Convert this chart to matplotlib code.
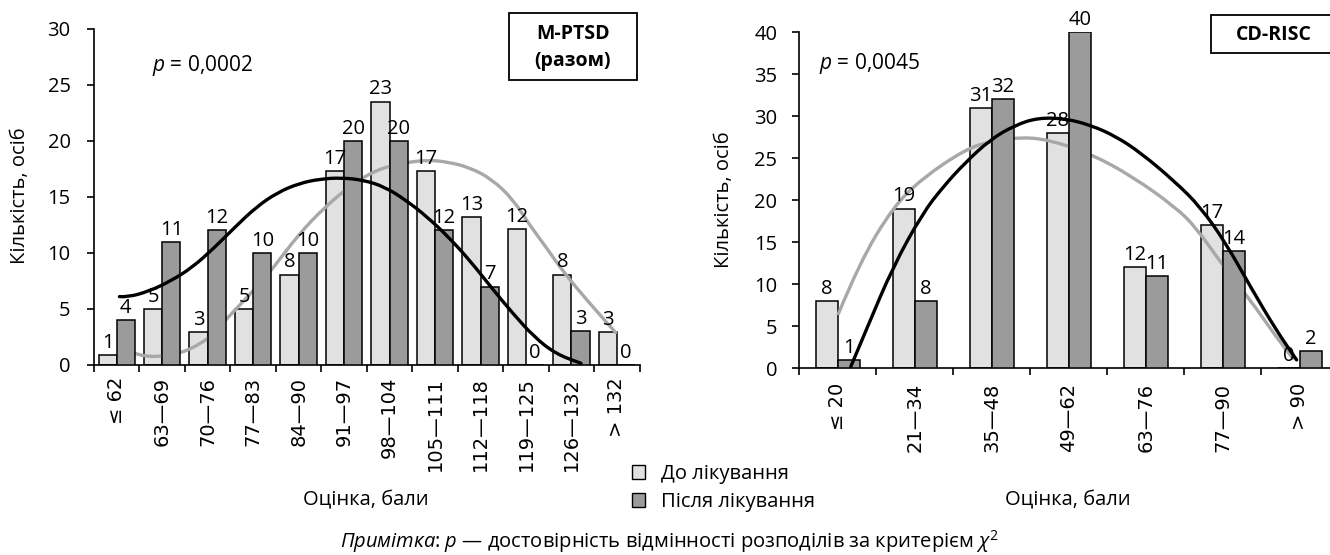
import numpy as np
import matplotlib
matplotlib.use('Agg')
from matplotlib import pyplot as plt
from matplotlib.patches import Patch, Rectangle, PathPatch
from matplotlib.path import Path

plt.rcParams['font.family'] = ['Open Sans', 'DejaVu Sans']
plt.rcParams['mathtext.fontset'] = 'custom'
plt.rcParams['mathtext.it'] = 'Open Sans:italic'
plt.rcParams['mathtext.rm'] = 'Open Sans'

# ---- M-PTSD (разом) ----
ptsd_cats = ['≤ 62', '63—69', '70—76', '77—83', '84—90', '91—97',
             '98—104', '105—111', '112—118', '119—125', '126—132', '> 132']
ptsd_before = [0.92, 5.0, 2.92, 5.0, 8.07, 17.34, 23.5, 17.34, 13.2, 12.15, 8.07, 2.92]
ptsd_before_lbl = [1, 5, 3, 5, 8, 17, 23, 17, 13, 12, 8, 3]
ptsd_after = [4, 11, 12, 10, 10, 20, 20, 12, 7, 0, 3, 0]

# лінії тренду (позиція категорії, значення)
ptsd_before_cx = [0.09, 0.44, 0.91, 1.38, 1.85, 2.13, 2.41, 3.07, 3.45, 4.01, 4.58, 5.14,
                  5.7, 6.27, 6.83, 7.3, 7.77, 8.24, 8.71, 9.06, 9.46, 9.84, 10.4, 10.97]
ptsd_before_cy = [1.4, 0.9, 0.7, 1.0, 1.9, 2.8, 4.1, 6.9, 8.7, 11.7, 14.1, 16.0,
                  17.4, 18.0, 18.3, 18.1, 17.6, 16.6, 14.8, 12.6, 10.4, 8.2, 5.5, 2.9]
ptsd_after_cx = [0.06, 0.25, 0.72, 1.19, 1.66, 2.13, 2.6, 3.07, 3.54, 4.01, 4.48, 4.95,
                 5.42, 5.89, 6.36, 6.83, 7.3, 7.77, 8.24, 8.71, 9.18, 9.65, 10.21]
ptsd_after_cy = [6.1, 6.05, 6.6, 7.5, 8.7, 10.4, 12.3, 14.1, 15.4, 16.2, 16.6, 16.7,
                 16.5, 15.9, 14.7, 13.2, 11.4, 9.3, 6.9, 4.6, 2.5, 1.0, 0.15]

# ---- CD-RISC ----
risc_cats = ['≤ 20', '21—34', '35—48', '49—62', '63—76', '77—90', '> 90']
risc_before = [8, 19, 31, 28, 12, 17, 0]
risc_after = [1, 8, 32, 40, 11, 14, 2]

risc_before_cx = [0.01, 0.28, 0.72, 1.1, 1.65, 1.98, 2.36, 2.74, 3.29, 3.83, 4.38,
                  4.65, 4.98, 5.36, 5.69, 5.91]
risc_before_cy = [6.5, 12.5, 19.2, 22.6, 26.0, 27.0, 27.5, 27.2, 25.5, 22.8, 19.2,
                  16.8, 12.5, 8.1, 3.8, 1.2]
risc_after_cx = [0.17, 0.39, 0.72, 1.1, 1.37, 1.65, 1.98, 2.3, 2.6, 2.96, 3.29, 3.61,
                 3.94, 4.38, 4.71, 5.04, 5.36, 5.69, 5.96]
risc_after_cy = [0.2, 5.0, 12.1, 18.4, 21.6, 24.4, 27.2, 28.9, 29.8, 29.7, 28.9, 27.6,
                 25.6, 22.2, 19.2, 14.9, 9.7, 4.6, 1.0]

LIGHT = '#e1e1e1'
DARK = '#9b9b9b'
GREY_LINE = '#a8a8a8'
W, H = 1330, 555


def px_axes(fig, x0, x1, y_top, y_bot):
    """осі по координатах у пікселях"""
    return fig.add_axes([x0 / W, 1 - y_bot / H, (x1 - x0) / W, (y_bot - y_top) / H])


def smooth_line(ax, xs, ys, color, z):
    """гладка крива: зчитані точки як контрольні точки квадратичних кривих Безьє"""
    pts = list(zip(xs, ys))
    verts = [pts[0]]
    codes = [Path.MOVETO]
    for i in range(1, len(pts) - 1):
        mid = ((pts[i][0] + pts[i + 1][0]) / 2, (pts[i][1] + pts[i + 1][1]) / 2)
        verts += [pts[i], mid]
        codes += [Path.CURVE3, Path.CURVE3]
    verts.append(pts[-1])
    codes.append(Path.LINETO)
    ax.add_patch(PathPatch(Path(verts, codes), facecolor='none', edgecolor=color,
                           lw=2.4, zorder=z, capstyle='round'))


def panel(ax, cats, before, before_lbl, after, bcx, bcy, acx, acy, bw, ymax, ypad, xpad):
    x = np.arange(len(cats))
    ax.bar(x - bw / 2, before, bw, color=LIGHT, edgecolor='black', linewidth=1.1, zorder=2)
    smooth_line(ax, bcx, bcy, GREY_LINE, 2.5)
    ax.bar(x + bw / 2, after, bw, color=DARK, edgecolor='black', linewidth=1.1, zorder=3)
    smooth_line(ax, acx, acy, 'black', 4)

    for xi, h, l in zip(x - bw / 2, before, before_lbl):
        ax.annotate(str(l), (xi, h), xytext=(0, 1.5), textcoords='offset points',
                    ha='center', va='bottom', fontsize=14.5, zorder=5)
    for xi, h in zip(x + bw / 2, after):
        ax.annotate(str(h), (xi, h), xytext=(0, 1.5), textcoords='offset points',
                    ha='center', va='bottom', fontsize=14.5, zorder=5)

    ax.set_xlim(-0.5, len(cats) - 0.5)
    ax.set_ylim(0, ymax)
    ax.set_yticks(np.arange(0, ymax + 1, 5))
    ax.set_xticks(np.arange(len(cats) + 1) - 0.5)
    ax.set_xticklabels([])
    ax.set_xticks(x, minor=True)
    ax.set_xticklabels(cats, minor=True, rotation=90, family='DejaVu Sans', fontsize=14)
    ax.tick_params(axis='x', which='major', length=5, width=1.2, direction='out')
    ax.tick_params(axis='x', which='minor', length=0, pad=xpad)
    ax.tick_params(axis='y', length=4.8, width=1.2, pad=ypad, labelsize=14.5)
    for s in ['top', 'right']:
        ax.spines[s].set_visible(False)
    for s in ['left', 'bottom']:
        ax.spines[s].set_linewidth(1.2)
    ax.patch.set_alpha(0)


fig = plt.figure(figsize=(W / 100, H / 100), dpi=100)

ax1 = px_axes(fig, 94, 639.7, 28.7, 365)
panel(ax1, ptsd_cats, ptsd_before, ptsd_before_lbl, ptsd_after,
      ptsd_before_cx, ptsd_before_cy, ptsd_after_cx, ptsd_after_cy,
      0.4, 30, 12, 8.5)

ax2 = px_axes(fig, 799.2, 1338.2, 32, 368.3)
panel(ax2, risc_cats, risc_before, risc_before, risc_after,
      risc_before_cx, risc_before_cy, risc_after_cx, risc_after_cy,
      0.285, 40, 11, 10.5)

# підписи осей
fig.text(20 / W, 1 - 196 / H, 'Кількість, осіб', rotation=90, ha='center', va='center', fontsize=14.5)
fig.text(724 / W, 1 - 200 / H, 'Кількість, осіб', rotation=90, ha='center', va='center', fontsize=14.5)
fig.text(366 / W, 1 - 500.5 / H, 'Оцінка, бали', ha='center', va='center', fontsize=14.5)
fig.text(1068 / W, 1 - 500.5 / H, 'Оцінка, бали', ha='center', va='center', fontsize=14.5)

# p-значення
fig.text(151.7 / W, 1 - 65 / H, '$p$ = 0,0002', ha='left', va='center', fontsize=15)
fig.text(819.4 / W, 1 - 63 / H, '$p$ = 0,0045', ha='left', va='center', fontsize=15)

# рамки з назвами шкал
fig.add_artist(Rectangle((508.5 / W, 1 - 80 / H), 128.3 / W, 67.3 / H, transform=fig.transFigure,
                         facecolor='white', edgecolor='black', lw=1.3))
fig.text(572.6 / W, 1 - 47.5 / H, 'M-PTSD\n(разом)', ha='center', va='center',
         fontsize=14, fontweight='bold', linespacing=1.45)
fig.add_artist(Rectangle((1211 / W, 1 - 52.7 / H), 126 / W, 37.4 / H, transform=fig.transFigure,
                         facecolor='white', edgecolor='black', lw=1.3))
fig.text(1274 / W, 1 - 34.5 / H, 'CD-RISC', ha='center', va='center', fontsize=14, fontweight='bold')

# легенда
fig.legend(handles=[Patch(facecolor=LIGHT, edgecolor='black', lw=1),
                    Patch(facecolor=DARK, edgecolor='black', lw=1)],
           labels=['До лікування', 'Після лікування'],
           loc='upper left', bbox_to_anchor=(632 / W, 1 - 464 / H), frameon=False,
           fontsize=14.5, handlelength=0.65, handleheight=0.7, handletextpad=0.8,
           labelspacing=0.4, borderpad=0, borderaxespad=0)

# примітка
fig.text(669 / W, 1 - 541.5 / H,
         r'$\mathit{Примітка}$: $\mathit{p}$ — достовірність відмінності розподілів за критерієм $\chi^2$',
         ha='center', va='center', fontsize=14.5)

fig.savefig('out.png', dpi=100)
